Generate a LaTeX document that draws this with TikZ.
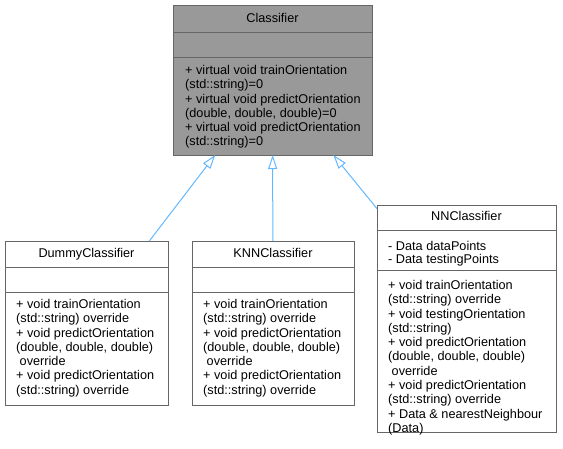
\documentclass[tikz,border=0pt]{standalone}
\usepackage{fontspec}
\setmainfont{Liberation Sans}
\usetikzlibrary{positioning}
\usetikzlibrary{arrows.meta}
\definecolor{boxline}{HTML}{666666}
\definecolor{boxfill}{HTML}{999999}
\definecolor{edgeblue}{HTML}{63B8FF}

\begin{document}
\begin{tikzpicture}[x=1pt, y=-1pt, box/.style = {draw=boxline, fill=white, line width=1pt, anchor=north west, outer sep=0pt, inner sep=0pt}, divline/.style = {draw=boxline, line width=1pt}, head/.style = {inner sep=0pt, font=\fontsize{12.7}{14.3}\selectfont}, memb/.style = {inner sep=0pt, align=left, font=\fontsize{12.7}{14.3}\selectfont}, attr/.style = {memb, font=\fontsize{12.7}{13.3}\selectfont}, inh/.style = {edgeblue, line width=1pt, -{Triangle[open, length=14pt, width=9pt, fill=white]}}]
            \useasboundingbox (0,0) rectangle (563,448);
            \node[box, fill=boxfill, minimum width=199, minimum height=150] (clf) at (173,5) {};
            \draw[divline] ([yshift=-27pt]clf.north west) -- ([yshift=-27pt]clf.north east);
            \draw[divline] ([yshift=-52pt]clf.north west) -- ([yshift=-52pt]clf.north east);
            \node[head] (clft) [below=8pt of clf.north] {Classifier};
            \node[memb] (clfm) [below right=60pt and 12pt of clf.north west] {+ virtual void trainOrientation\\(std::string)=0\\+ virtual void predictOrientation\\(double, double, double)=0\\+ virtual void predictOrientation\\(std::string)=0};

            \node[box, minimum width=163, minimum height=164] (dummy) at (5,241) {};
            \draw[divline] ([yshift=-26pt]dummy.north west) -- ([yshift=-26pt]dummy.north east);
            \draw[divline] ([yshift=-51pt]dummy.north west) -- ([yshift=-51pt]dummy.north east);
            \node[head] (dummyt) [below=7pt of dummy.north] {DummyClassifier};
            \node[memb] (dummym) [below right=58pt and 11pt of dummy.north west] {+ void trainOrientation\\(std::string) override\\+ void predictOrientation\\(double, double, double)\\\ override\\+ void predictOrientation\\(std::string) override};

            \node[box, minimum width=162, minimum height=164] (knn) at (192,241) {};
            \draw[divline] ([yshift=-26pt]knn.north west) -- ([yshift=-26pt]knn.north east);
            \draw[divline] ([yshift=-51pt]knn.north west) -- ([yshift=-51pt]knn.north east);
            \node[head] (knnt) [below=7pt of knn.north] {KNNClassifier};
            \node[memb] (knnm) [below right=58pt and 11pt of knn.north west] {+ void trainOrientation\\(std::string) override\\+ void predictOrientation\\(double, double, double)\\\ override\\+ void predictOrientation\\(std::string) override};

            \node[box, minimum width=179, minimum height=227] (nn) at (377,205) {};
            \draw[divline] ([yshift=-25pt]nn.north west) -- ([yshift=-25pt]nn.north east);
            \draw[divline] ([yshift=-65.5pt]nn.north west) -- ([yshift=-65.5pt]nn.north east);
            \node[head] (nnt) [below=6pt of nn.north] {NNClassifier};
            \node[attr] (nna) [below right=36pt and 11pt of nn.north west] {- Data dataPoints\\- Data testingPoints};
            \node[memb] (nnm) [below right=75pt and 11pt of nn.north west] {+ void trainOrientation\\(std::string) override\\+ void testingOrientation\\(std::string)\\+ void predictOrientation\\(double, double, double)\\\ override\\+ void predictOrientation\\(std::string) override\\+ Data \& nearestNeighbour\\(Data)};

            \draw[inh] (dummy) -- (clf);
            \draw[inh] (knn) -- (clf);
            \draw[inh] (nn) -- (clf);
        \end{tikzpicture}
\end{document}
